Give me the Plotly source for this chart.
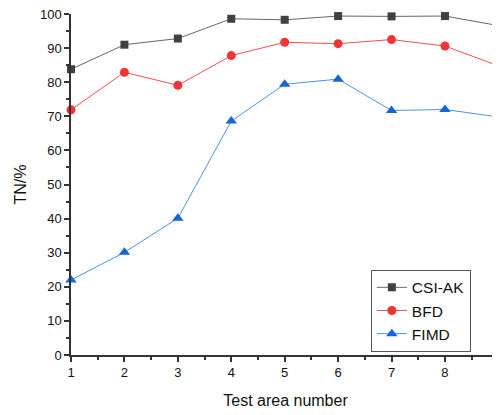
import plotly.graph_objects as go

x_vals = [1, 2, 3, 4, 5, 6, 7, 8, 9]
csi_ak = [83.8, 91.0, 92.8, 98.6, 98.3, 99.4, 99.3, 99.4, 96.6]
bfd = [71.9, 82.9, 79.1, 87.8, 91.7, 91.3, 92.5, 90.6, 84.8]
fimd = [22.0, 30.1, 40.1, 68.6, 79.4, 80.9, 71.7, 72.0, 69.8]

fig = go.Figure()
fig.add_trace(go.Scatter(x=x_vals, y=csi_ak, name="CSI-AK", mode="lines+markers",
                         line=dict(color="#666666", width=1),
                         marker=dict(symbol="square", size=8, color="#404040"),
                         cliponaxis=False))
fig.add_trace(go.Scatter(x=x_vals, y=bfd, name="BFD", mode="lines+markers",
                         line=dict(color="#f05050", width=1),
                         marker=dict(symbol="circle", size=9, color="#f03535"),
                         cliponaxis=False))
fig.add_trace(go.Scatter(x=x_vals, y=fimd, name="FIMD", mode="lines+markers",
                         line=dict(color="#5090ea", width=1),
                         marker=dict(symbol="triangle-up", size=10, color="#1565d8"),
                         cliponaxis=False))

fig.update_layout(
    width=500, height=415,
    margin=dict(l=63, r=8, t=6, b=68, autoexpand=False),
    paper_bgcolor="white", plot_bgcolor="white",
    font=dict(family="Liberation Sans, Arial, sans-serif", color="#111111", size=13),
    legend=dict(x=0.699, y=0.25, xanchor="left", yanchor="top",
                bordercolor="#555555", borderwidth=1, bgcolor="white",
                font=dict(size=15.5), tracegroupgap=0),
    showlegend=True,
)
fig.update_xaxes(range=[1, 9.03], tickvals=x_vals, ticks="outside", ticklen=5,
                 tickwidth=1.5, tickcolor="#333333", showline=True, linecolor="#333333",
                 linewidth=1.5, showgrid=False, zeroline=False, automargin=False,
                 ticklabeloverflow="allow",
                 minor=dict(dtick=0.5, tick0=1, ticks="outside", ticklen=3, tickcolor="#333333"),
                 title=dict(text="Test area number", font=dict(size=16), standoff=15))
fig.update_yaxes(range=[0, 100], dtick=10, ticks="outside", ticklen=5,
                 tickwidth=1.5, tickcolor="#333333", showline=True, linecolor="#333333",
                 linewidth=1.5, showgrid=False, zeroline=False, automargin=False,
                 ticklabeloverflow="allow",
                 minor=dict(dtick=5, ticks="outside", ticklen=3, tickcolor="#333333"),
                 title=dict(text="TN/%", font=dict(size=16), standoff=9))

fig.write_html("out.html")
